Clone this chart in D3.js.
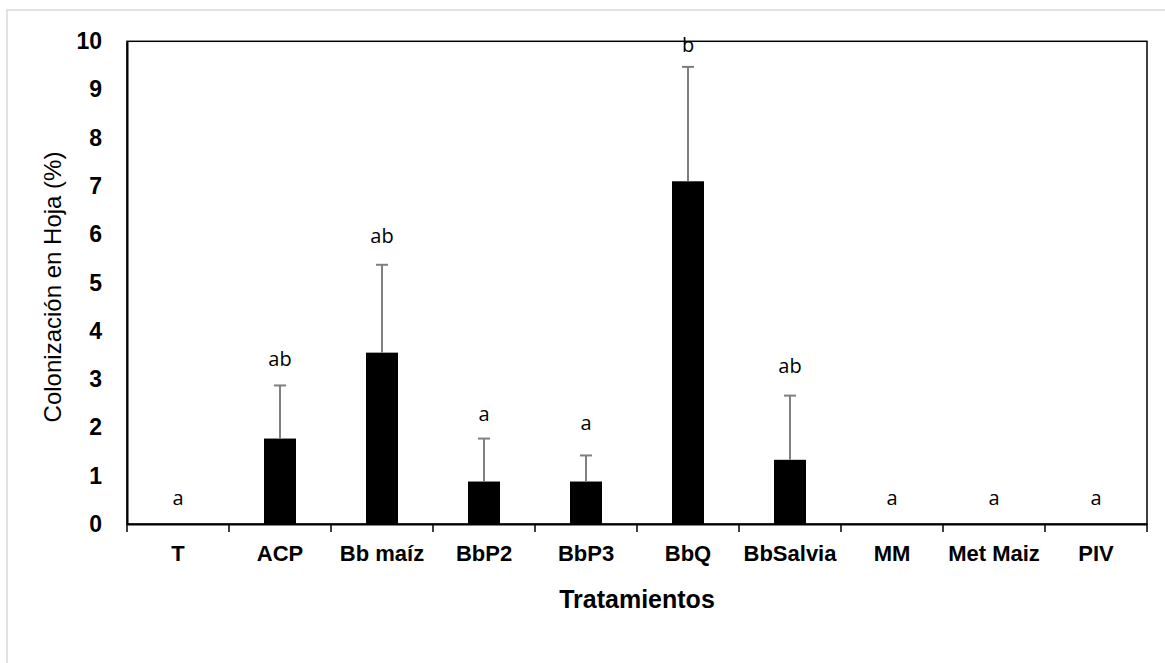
<!DOCTYPE html>
<html><head><meta charset="utf-8">
<script src="https://cdn.jsdelivr.net/npm/d3@7"></script>
<style>html,body{margin:0;padding:0;background:#fff;}svg{display:block;}</style>
</head><body>
<svg id="c" width="1165" height="663"></svg>
<script>
const categories = ["T","ACP","Bb maíz","BbP2","BbP3","BbQ","BbSalvia","MM","Met Maiz","PIV"];
const means = [0, 1.77, 3.55, 0.88, 0.88, 7.1, 1.33, 0, 0, 0];
const errTops = [0, 2.87, 5.37, 1.77, 1.42, 9.47, 2.66, 0, 0, 0];
const letters = ["a","ab","ab","a","a","b","ab","a","a","a"];
const letterY = [0.39, 3.28, 5.83, 2.13, 1.95, 9.78, 3.13, 0.39, 0.39, 0.39];
const yTicks = [0,1,2,3,4,5,6,7,8,9,10];

const svg = d3.select("#c");
const L = 127, R = 1147, T = 41.3, B = 524;

svg.append("rect").attr("x",7).attr("y",10).attr("width",1200).attr("height",700)
  .attr("fill","none").attr("stroke","#d9d9d9").attr("stroke-width",1.5);

const x = d3.scaleBand().domain(categories).range([L,R]).padding(0);
const y = d3.scaleLinear().domain([0,10]).range([B,T]);

// plot box
svg.append("rect").attr("x",L).attr("y",T).attr("width",R-L).attr("height",B-T)
  .attr("fill","none").attr("stroke","#000").attr("stroke-width",1.5);

const bw = 32;
svg.append("g").selectAll("rect").data(categories).join("rect")
  .attr("x", d => x(d)+x.bandwidth()/2-bw/2)
  .attr("y", (d,i) => y(means[i]))
  .attr("width", bw)
  .attr("height", (d,i) => y(0)-y(means[i]))
  .attr("fill","#000");

// error bars
const eg = svg.append("g").attr("stroke","#7f7f7f").attr("stroke-width",2);
categories.forEach((c,i) => {
  if (errTops[i] > means[i]) {
    const cx = x(c)+x.bandwidth()/2;
    eg.append("line").attr("x1",cx).attr("x2",cx).attr("y1",y(means[i])).attr("y2",y(errTops[i]));
    eg.append("line").attr("x1",cx-6).attr("x2",cx+6).attr("y1",y(errTops[i])).attr("y2",y(errTops[i]));
  }
});

// letters
svg.append("g").selectAll("text").data(categories).join("text")
  .attr("x", d => x(d)+x.bandwidth()/2)
  .attr("y", (d,i) => y(letterY[i]))
  .attr("text-anchor","middle")
  .attr("font-family","'Open Sans', sans-serif")
  .attr("font-size",20)
  .attr("fill","#000")
  .text((d,i) => letters[i]);

// x axis
const xAxis = d3.axisBottom(x).tickSize(0).tickPadding(0);
const gx = svg.append("g").attr("transform",`translate(0,${B})`).call(xAxis);
gx.select(".domain").attr("stroke","#000").attr("stroke-width",2);
gx.selectAll(".tick text").attr("y",37).attr("dy",0)
  .attr("font-family","'Liberation Sans', Arial, sans-serif").attr("font-weight","bold")
  .attr("font-size",22).attr("fill","#000");
// boundary ticks
const bounds = categories.map(c => x(c)).concat([R]);
svg.append("g").selectAll("line").data(bounds).join("line")
  .attr("x1",d=>d).attr("x2",d=>d).attr("y1",B).attr("y2",B+8)
  .attr("stroke","#000").attr("stroke-width",1.5);

// y axis
const yAxis = d3.axisLeft(y).tickValues(yTicks).tickSize(0).tickPadding(25).tickFormat(d3.format("d"));
const gy = svg.append("g").attr("transform",`translate(${L},0)`).call(yAxis);
gy.select(".domain").attr("stroke","#000").attr("stroke-width",2);
gy.selectAll(".tick text")
  .attr("font-family","'Liberation Sans', Arial, sans-serif").attr("font-weight","bold")
  .attr("font-size",23).attr("fill","#000");

// titles
svg.append("text").attr("x",(L+R)/2).attr("y",608).attr("text-anchor","middle")
  .attr("font-family","'Liberation Sans', Arial, sans-serif").attr("font-weight","bold")
  .attr("font-size",25).attr("fill","#000").text("Tratamientos");
svg.append("text").attr("transform",`translate(61,287) rotate(-90)`)
  .attr("text-anchor","middle")
  .attr("font-family","'Liberation Sans', Arial, sans-serif")
  .attr("font-size",24).attr("fill","#000").text("Colonización en Hoja (%)");
</script>
</body></html>
